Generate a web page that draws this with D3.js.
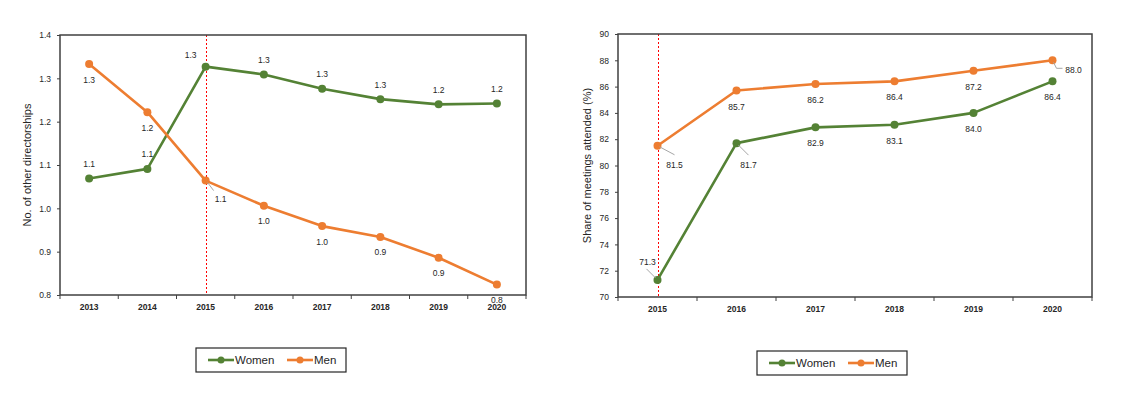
<!DOCTYPE html>
<html>
<head>
<meta charset="utf-8">
<script src="https://d3js.org/d3.v7.min.js"></script>
<style>
  body { margin: 0; background: #fff; }
  text { font-family: "Liberation Sans", Arial, sans-serif; fill: #262626; }
</style>
</head>
<body>
<svg id="chart"></svg>
<script>
// left panel: other directorships
var yearsA = ["2013", "2014", "2015", "2016", "2017", "2018", "2019", "2020"]
var womenA = [1.069, 1.091, 1.327, 1.309, 1.276, 1.252, 1.240, 1.242]
var menA = [1.333, 1.222, 1.064, 1.006, 0.959, 0.934, 0.886, 0.824]
var womenLabelsA = ["1.1", "1.1", "1.3", "1.3", "1.3", "1.3", "1.2", "1.2"]
var menLabelsA = ["1.3", "1.2", "1.1", "1.0", "1.0", "0.9", "0.9", "0.8"]
var ticksA = [0.8, 0.9, 1.0, 1.1, 1.2, 1.3, 1.4]

// right panel: meetings attended
var yearsB = ["2015", "2016", "2017", "2018", "2019", "2020"]
var womenB = [71.3, 81.7, 82.9, 83.1, 84.0, 86.4]
var menB = [81.5, 85.7, 86.2, 86.4, 87.2, 88.0]
var ticksB = [70, 72, 74, 76, 78, 80, 82, 84, 86, 88, 90]

var green = "#548235"
var orange = "#ed7d31"

var width = 1131
var height = 397

var svg = d3.select("#chart")
    .attr("width", width)
    .attr("height", height)

svg.append("rect").attr("width", width).attr("height", height).attr("fill", "#fff")

// label placement: default offset, plus special ones (dx, dy, leader)
function drawPanel(opt) {
  var x = d3.scaleBand().domain(opt.years).range([opt.left, opt.right]).padding(0)
  var y = d3.scaleLinear().domain(opt.domain).range([opt.bottom, opt.top])
  var g = svg.append("g")

  // y axis
  g.append("g")
    .attr("transform", "translate(" + opt.left + ",0)")
    .call(d3.axisLeft(y).tickValues(opt.ticks).tickSize(3).tickPadding(6).tickFormat(opt.fmt))
    .call(a => a.select(".domain").remove())
    .call(a => a.selectAll("line").attr("stroke", "#404040"))
    .call(a => a.selectAll("text").attr("font-size", 8.5).attr("fill", "#262626"))

  // x axis ticks at band edges
  var edges = opt.years.map(d => x(d)).concat([opt.right])
  g.selectAll(".xt").data(edges).enter().append("line")
    .attr("x1", d => d).attr("x2", d => d)
    .attr("y1", opt.bottom).attr("y2", opt.bottom + 4)
    .attr("stroke", "#404040")
  g.selectAll(".xl").data(opt.years).enter().append("text")
    .attr("x", d => x(d) + x.bandwidth() / 2)
    .attr("y", opt.bottom + 15)
    .attr("text-anchor", "middle")
    .attr("font-size", 8.5)
    .attr("font-weight", "bold")
    .attr("fill", "#333")
    .text(d => d)

  // 2015 marker
  var cx15 = Math.round(x("2015") + x.bandwidth() / 2) + 0.5
  g.append("line")
    .attr("x1", cx15).attr("x2", cx15)
    .attr("y1", opt.top).attr("y2", opt.bottom)
    .attr("stroke", "#ff0000").attr("stroke-width", 1)
    .attr("stroke-dasharray", "2,2")

  // plot frame
  g.append("rect")
    .attr("x", opt.left).attr("y", opt.top)
    .attr("width", opt.right - opt.left).attr("height", opt.bottom - opt.top)
    .attr("fill", "none").attr("stroke", "#404040").attr("stroke-width", 1.5)

  // axis title
  g.append("text")
    .attr("transform", "translate(" + opt.titleX + "," + ((opt.top + opt.bottom) / 2) + ") rotate(-90)")
    .attr("text-anchor", "middle")
    .attr("dominant-baseline", "middle")
    .attr("font-size", 11)
    .text(opt.title)

  var line = d3.line()
    .x((d, i) => x(opt.years[i]) + x.bandwidth() / 2)
    .y(d => y(d))

  opt.series.forEach(function(s) {
    g.append("path")
      .attr("d", line(s.values))
      .attr("fill", "none")
      .attr("stroke", s.color)
      .attr("stroke-width", 2.6)
      .attr("stroke-linejoin", "round")
    g.selectAll(null).data(s.values).enter().append("circle")
      .attr("cx", (d, i) => x(opt.years[i]) + x.bandwidth() / 2)
      .attr("cy", d => y(d))
      .attr("r", 4)
      .attr("fill", s.color)

    s.values.forEach(function(v, i) {
      var px = x(opt.years[i]) + x.bandwidth() / 2
      var py = y(v)
      var sp = s.special[i] || {dx: 0, dy: s.dy}
      if (sp.leader) {
        g.append("polyline")
          .attr("points", sp.leader.map(p => (px + p[0]) + "," + (py + p[1])).join(" "))
          .attr("fill", "none")
          .attr("stroke", "#a6a6a6")
          .attr("stroke-width", 1)
      }
      g.append("text")
        .attr("x", px + sp.dx)
        .attr("y", py + sp.dy)
        .attr("text-anchor", "middle")
        .attr("dominant-baseline", "central")
        .attr("font-size", 8.5)
        .text(s.labels[i])
    })
  })

  // legend
  var lg = svg.append("g")
  lg.append("rect")
    .attr("x", opt.legend[0]).attr("y", opt.legend[1])
    .attr("width", 150).attr("height", 24)
    .attr("fill", "#fff").attr("stroke", "#262626").attr("stroke-width", 1.2)
  var items = [{name: "Women", color: green, off: 12}, {name: "Men", color: orange, off: 91}]
  items.forEach(function(it) {
    var lx = opt.legend[0] + it.off
    var ly = opt.legend[1] + 12
    lg.append("line").attr("x1", lx).attr("x2", lx + 26).attr("y1", ly).attr("y2", ly)
      .attr("stroke", it.color).attr("stroke-width", 2.6)
    lg.append("circle").attr("cx", lx + 13).attr("cy", ly).attr("r", 3.5).attr("fill", it.color)
    lg.append("text").attr("x", lx + 27).attr("y", ly)
      .attr("dominant-baseline", "central")
      .attr("font-size", 11.5)
      .text(it.name)
  })
}

drawPanel({
  years: yearsA, domain: [0.8, 1.4], ticks: ticksA, fmt: d3.format(".1f"),
  left: 60, right: 526, top: 35, bottom: 295,
  title: "No. of other directorships", titleX: 28,
  legend: [196, 348],
  series: [
    {values: womenA, labels: womenLabelsA, color: green, dy: -14.5,
     special: {2: {dx: -15, dy: -12}}},
    {values: menA, labels: menLabelsA, color: orange, dy: 15.5,
     special: {2: {dx: 15, dy: 18.5, leader: [[2, 2], [8, 10]]}}}
  ]
})

drawPanel({
  years: yearsB, domain: [70, 90], ticks: ticksB, fmt: d3.format("d"),
  left: 618, right: 1092, top: 34, bottom: 297,
  title: "Share of meetings attended (%)", titleX: 588,
  legend: [757, 351],
  series: [
    {values: womenB, labels: womenB.map(d3.format(".1f")), color: green, dy: 16,
     special: {0: {dx: -10, dy: -18, leader: [[-2, -2], [-11, -11]]},
               1: {dx: 12, dy: 22, leader: [[2, 2], [12, 12]]}}},
    {values: menB, labels: menB.map(d3.format(".1f")), color: orange, dy: 16,
     special: {0: {dx: 17, dy: 19.5, leader: [[2, 1], [17, 9]]},
               5: {dx: 21, dy: 10, leader: [[1, 2], [4, 8], [10, 8]]}}}
  ]
})
</script>
</body>
</html>
